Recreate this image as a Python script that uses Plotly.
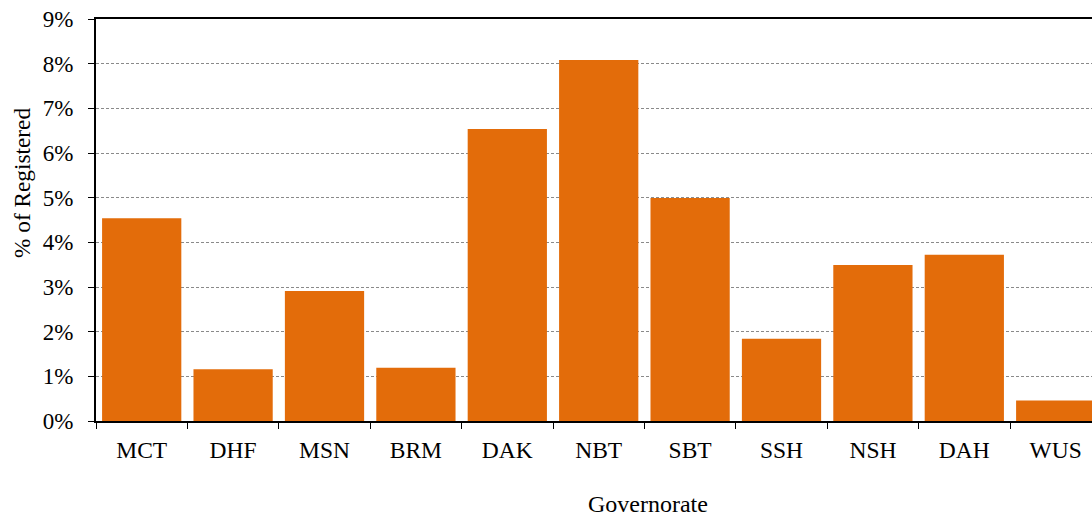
import plotly.graph_objects as go

categories = ["MCT", "DHF", "MSN", "BRM", "DAK", "NBT", "SBT", "SSH", "NSH", "DAH", "WUS"]
pct_registered = [4.54, 1.16, 2.91, 1.19, 6.54, 8.08, 4.99, 1.84, 3.49, 3.72, 0.46]
y_ticks = [0, 1, 2, 3, 4, 5, 6, 7, 8, 9]

FONT = "Liberation Serif"

fig = go.Figure()
fig.add_trace(go.Bar(
    x=categories,
    y=pct_registered,
    marker=dict(color="#E36C0A", line=dict(width=0)),
))

fig.update_layout(
    width=1092, height=516,
    margin=dict(l=96, r=0, t=19, b=95),
    plot_bgcolor="white", paper_bgcolor="white",
    bargap=0.133,
    showlegend=False,
    font=dict(family=FONT, size=23, color="black"),
    xaxis=dict(
        type="category",
        range=[-0.5, 10.397],
        showline=True, linecolor="black", linewidth=2, mirror=True,
        ticks="outside", tickson="boundaries", ticklen=6, tickcolor="black", tickwidth=1,
        showgrid=False,
        tickfont=dict(family=FONT, size=23.5),
        ticklabelstandoff=7,
    ),
    yaxis=dict(
        range=[0, 9],
        tickvals=y_ticks,
        ticktext=[f"{v}%" for v in y_ticks],
        showline=True, linecolor="black", linewidth=2,
        ticks="outside", ticklen=6, tickcolor="black", tickwidth=1,
        showgrid=True, gridcolor="#8a8a8a", gridwidth=1, griddash="3px,2px",
        zeroline=False,
        tickfont=dict(family=FONT, size=23),
        ticklabelstandoff=10,
        ticklabeloverflow="allow",
    ),
    annotations=[
        dict(text="% of Registered", xref="paper", yref="paper",
             x=(22 - 96) / 996, y=(421 - 183) / 402, textangle=-90,
             showarrow=False, xanchor="center", yanchor="middle",
             font=dict(family=FONT, size=23.3)),
        dict(text="Governorate", xref="paper", yref="paper",
             x=(648 - 96) / 996, y=-(504 - 421) / 402,
             showarrow=False, xanchor="center", yanchor="middle",
             font=dict(family=FONT, size=24)),
    ],
)

fig.write_html(
    "out.html",
    config={"displayModeBar": False},
    post_script="document.body.style.margin='0';document.body.style.overflow='hidden';",
)
